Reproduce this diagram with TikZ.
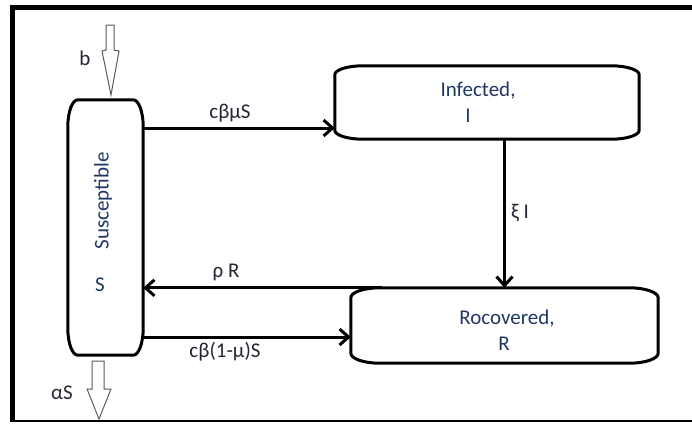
\documentclass[tikz,border=0pt]{standalone}
\usepackage{fontspec}
\setmainfont{Carlito}
\usetikzlibrary{arrows.meta,calc}
\definecolor{boxtext}{HTML}{1F3864}
\definecolor{labeltext}{HTML}{262633}

% Outline with elliptical corners round an (invisible) node:
% #1 node name, #2 horizontal corner radius, #3 vertical corner radius
\newcommand{\drawroundbox}[3]{%
  \draw[outline] let \p1=(#1.north west), \p2=(#1.south east) in
    (\x1,{\y1-#3}) .. controls (\x1,{\y1-0.4477*#3}) and ({\x1+0.4477*#2},\y1) .. ({\x1+#2},\y1)
    -- ({\x2-#2},\y1) .. controls ({\x2-0.4477*#2},\y1) and (\x2,{\y1-0.4477*#3}) .. (\x2,{\y1-#3})
    -- (\x2,{\y2+#3}) .. controls (\x2,{\y2+0.4477*#3}) and ({\x2-0.4477*#2},\y2) .. ({\x2-#2},\y2)
    -- ({\x1+#2},\y2) .. controls ({\x1+0.4477*#2},\y2) and (\x1,{\y2+0.4477*#3}) .. (\x1,{\y2+#3})
    -- cycle;}

\begin{document}
\begin{tikzpicture}[x=1pt,y=-1pt,
  outline/.style={draw=black, line width=3pt, line join=round},
  area/.style={draw=none, inner sep=0pt, minimum width=#1},
  flow/.style={draw=black, line width=3pt, -{Straight Barb[length=9pt,width=16pt]}},
  hollow/.style={draw=black!65, line width=1pt, fill=white, line join=miter},
  boxlabel/.style={text=boxtext, font=\fontsize{21}{25}\selectfont, inner sep=0pt},
  ratelabel/.style={text=labeltext, font=\fontsize{21}{25}\selectfont, inner sep=0pt}]

\useasboundingbox (0,0) rectangle (692,423);

% frame
\draw[line width=5pt] (12.5,421) -- (12.5,7.5) -- (705,7.5);
\draw[line width=2.5pt] (10,421) -- (705,421);

% compartments
\node[area=75pt, minimum height=255pt] (S) at (105.5,227.5) {};
\node[area=304pt, minimum height=73pt] (I) at (487,102.5) {};
\node[area=307pt, minimum height=75pt] (R) at (504.5,325.5) {};
\drawroundbox{S}{10pt}{27pt}
\drawroundbox{I}{28pt}{9pt}
\drawroundbox{R}{29pt}{10pt}

\node[boxlabel, rotate=90] (Stitle) at (103,201) {Susceptible};
\node[boxlabel] (Ssym) at (100,285) {S};
\node[boxlabel] (Ititle) at (478,91) {Infected,};
\node[boxlabel] (Isym) at (468,116) {I};
\node[boxlabel] (Rtitle) at (507,319) {Rocovered,};
\node[boxlabel] (Rsym) at (504,344) {R};

% arrow end points on the compartment sides
\coordinate (Iin) at ([yshift=-25.5pt]I.west);
\coordinate (Rin) at ([yshift=-11.5pt]R.west);
\coordinate (Rout) at ([xshift=31pt]R.north west);

% transfers between compartments
\draw[flow] (S.east |- Iin) -- (Iin);
\draw[flow] (R.north |- I.south) -- (R.north);
\draw[flow] (Rout) -- (S.east |- Rout);
\draw[flow] (S.east |- Rin) -- (Rin);

\node[ratelabel] (l1) at (230,113) {cβμS};
\node[ratelabel] (l2) at (520,213) {ξ I};
\node[ratelabel] (l3) at (226,272) {ρ R};
\node[ratelabel] (l4) at (225,352) {cβ(1-μ)S};

% inflow and outflow
\coordinate (inTop) at (110,25);
\coordinate (outTop) at (98,361);
\draw[hollow] (inTop) ++(-4,0) -- ++(8,0) -- ++(0,25) -- ++(5,1) -- (111,95) -- (102,51) -- (106,50) -- cycle;
\draw[hollow] (outTop) ++(-6,0) -- ++(12,0) -- ++(0,28) -- ++(7,0) -- (99,419) -- (87,389) -- (92,389) -- cycle;
\node[ratelabel] (lb) at (85,58) {b};
\node[ratelabel] (la) at (62,393) {αS};
\end{tikzpicture}
\end{document}
